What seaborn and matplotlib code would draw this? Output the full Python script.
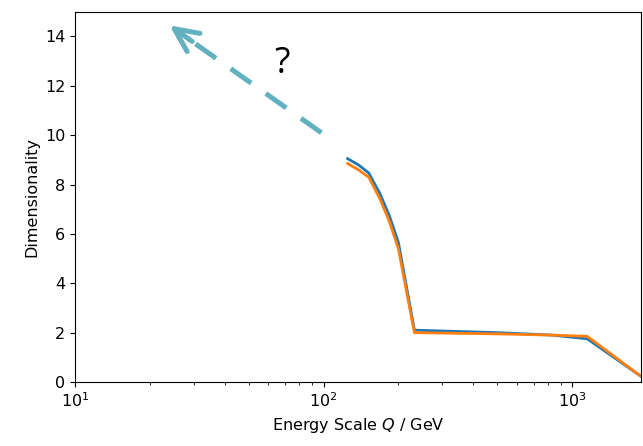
import numpy as np
import pandas as pd
import matplotlib
matplotlib.use("Agg")
import matplotlib.pyplot as plt
import seaborn as sns

# Data
energy = [125, 138, 152, 168, 184, 200, 232, 500, 830, 1150, 1880]
dim_blue = [9.05, 8.8, 8.47, 7.66, 6.73, 5.65, 2.1, 2.0, 1.9, 1.75, 0.25]
dim_orange = [8.85, 8.6, 8.3, 7.45, 6.5, 5.4, 2.0, 1.95, 1.9, 1.85, 0.25]
series_names = ["A", "B"]

arrow_tail = (98, 10.1)
arrow_tip = (24, 14.45)
dash_end = (29.6, 13.8)
question_pos = (68, 12.9)

df = pd.DataFrame({
    "Q": energy * 2,
    "D": dim_blue + dim_orange,
    "s": [series_names[0]] * len(energy) + [series_names[1]] * len(energy),
})

plt.rcParams["font.family"] = ["DejaVu Sans"]
fig = plt.figure(figsize=(6.43, 4.46), dpi=100)
ax = fig.add_axes([0.1166, 0.1435, 0.881, 0.83])

sns.lineplot(data=df, x="Q", y="D", hue="s", palette=["#1f77b4", "#ff7f0e"],
             sort=False, legend=False, ax=ax, linewidth=2.0)
ax.set_xscale("log")
ax.set_xlim(10, 1900)
ax.set_ylim(0, 15)
ax.set_yticks([0, 2, 4, 6, 8, 10, 12, 14])
ax.tick_params(labelsize=11.5)
ax.set_xlabel("Energy Scale $Q$ / GeV", fontsize=11.5)
ax.set_ylabel("Dimensionality", fontsize=11.5)

teal = "#62b0c0"
ax.plot([arrow_tail[0], dash_end[0]], [arrow_tail[1], dash_end[1]], color=teal,
        linewidth=3.6, linestyle=(0, (5, 3.6)), solid_capstyle="butt", dash_capstyle="butt")
ax.annotate("", xy=arrow_tip, xytext=dash_end,
            arrowprops=dict(arrowstyle="->,head_length=0.85,head_width=0.4", color=teal,
                            lw=3.6, mutation_scale=20, shrinkA=0, shrinkB=0))
ax.text(question_pos[0], question_pos[1], "?", fontsize=26, ha="center", va="center",
        family=["Open Sans", "DejaVu Sans"])

fig.savefig("out.png", dpi=100)
